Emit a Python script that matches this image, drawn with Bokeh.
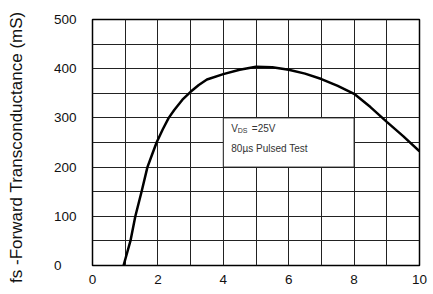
import numpy as np
from bokeh.plotting import figure
from bokeh.models import Range1d, SingleIntervalTicker, Label
from bokeh.embed import file_html
from bokeh.resources import INLINE

# Data
vgs = [0.95, 1.16, 1.31, 1.50, 1.68, 1.82, 1.96, 2.15, 2.33, 2.5, 2.75, 3.0, 3.25, 3.5,
       4.0, 4.5, 5.0, 5.5, 6.0, 6.5, 7.0, 7.5, 8.0, 8.5, 9.0, 9.5, 10.0]
gfs = [0, 50, 100, 150, 200, 225, 250, 277, 300, 316, 337, 353, 367, 378,
       389, 398, 404, 403, 398, 390, 379, 365, 349, 322, 292, 263, 232]

x_ticks = [0, 2, 4, 6, 8, 10]
y_ticks = [0, 100, 200, 300, 400, 500]
y_tick_labels = {0: "0\u2007\u2007", 100: "100", 200: "200", 300: "300", 400: "400", 500: "500"}
y_title = "fs -Forward Transconductance (mS)"

box_left, box_right, box_bottom, box_top = [4], [8], [200], [300]

FONT = "Liberation Sans"

p = figure(width=433, height=294, output_backend="svg", toolbar_location=None,
           x_range=Range1d(0, 10), y_range=Range1d(0, 500),
           min_border_left=92, min_border_right=14, min_border_top=19, min_border_bottom=29)

p.background_fill_color = "white"
p.border_fill_color = "white"
p.outline_line_color = "black"
p.outline_line_width = 1.5

# grid
p.xgrid.ticker = SingleIntervalTicker(interval=1)
p.ygrid.ticker = SingleIntervalTicker(interval=50)
for g in (p.xgrid, p.ygrid):
    g.grid_line_color = "#222222"
    g.grid_line_width = 1
    g.grid_line_alpha = 1

# axes
p.xaxis.ticker = x_ticks
p.yaxis.ticker = y_ticks
p.yaxis.major_label_overrides = y_tick_labels
for ax in (p.xaxis, p.yaxis):
    ax.axis_line_color = None
    ax.major_tick_line_color = None
    ax.minor_tick_line_color = None
    ax.major_tick_in = 0
    ax.major_tick_out = 0
    ax.minor_tick_out = 0
    ax.major_label_text_font = FONT
    ax.major_label_text_font_size = "13.5px"
    ax.major_label_text_color = "#111111"
p.xaxis.major_label_standoff = 9
p.yaxis.major_label_standoff = 16

p.yaxis.axis_label = y_title + "\u00a0" * 2
p.yaxis.axis_label_text_font = FONT
p.yaxis.axis_label_text_font_style = "normal"
p.yaxis.axis_label_text_font_size = "17px"
p.yaxis.axis_label_text_color = "#111111"
p.yaxis.axis_label_standoff = 25

# annotation box (covers grid)
p.quad(left=box_left, right=box_right, bottom=box_bottom, top=box_top,
       fill_color="white", line_color="#222222", line_width=1)

p.add_layout(Label(x=4.245, y=277.8, text="V", text_font=FONT, text_font_size="10px",
                   text_color="#333333", text_baseline="middle"))
p.add_layout(Label(x=4.245, y=277.8, x_offset=6.5, y_offset=-1.5, text="DS", text_font=FONT,
                   text_font_size="7px", text_color="#333333", text_baseline="middle"))
p.add_layout(Label(x=4.245, y=277.8, x_offset=20.5, text="=25V", text_font=FONT,
                   text_font_size="10px", text_color="#333333", text_baseline="middle"))
p.add_layout(Label(x=4.245, y=238.4, text="80\u00b5s Pulsed Test", text_font=FONT,
                   text_font_size="10px", text_color="#333333", text_baseline="middle"))

# curve
p.line(vgs, gfs, line_color="black", line_width=2.5)

open("out.html", "w").write(file_html(p, INLINE))
